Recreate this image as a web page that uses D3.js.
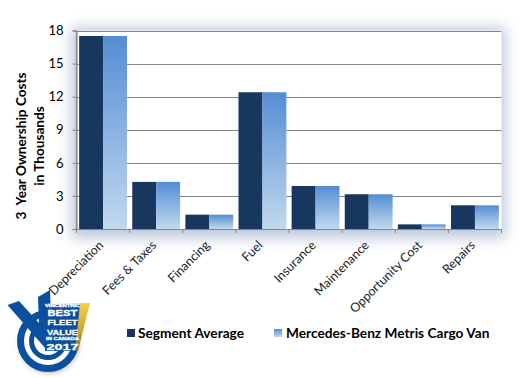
<!DOCTYPE html>
<html><head><meta charset="utf-8">
<script src="https://cdn.jsdelivr.net/npm/d3@7"></script>
<style>html,body{margin:0;background:#fff}svg{display:block}text{font-family:Lato,sans-serif}</style>
</head><body><div id="c"></div>
<script>
const categories=["Depreciation","Fees & Taxes","Financing","Fuel","Insurance","Maintenance","Opportunity Cost","Repairs"];
const seriesNames=["Segment Average","Mercedes-Benz Metris Cargo Van"];
const segmentAverage=[17.5,4.27,1.3,12.4,3.9,3.15,0.42,2.15];
const metrisVan=[17.5,4.27,1.3,12.4,3.9,3.15,0.42,2.15];
const yTicks=[0,3,6,9,12,15,18];
const W=524,H=378,L=76.5,R=501.5,T=30.5,B=229;
const svg=d3.select("#c").append("svg").attr("width",W).attr("height",H);
const defs=svg.append("defs");
const grad=defs.append("linearGradient").attr("id","g").attr("x1",0).attr("y1",0).attr("x2",0).attr("y2",1);
grad.append("stop").attr("offset",0).attr("stop-color","#548dd4");
grad.append("stop").attr("offset",1).attr("stop-color","#c2d9ee");
defs.append("filter").attr("id","blur").attr("x","-20%").attr("y","-30%").attr("width","140%").attr("height","160%")
  .append("feGaussianBlur").attr("stdDeviation",7);
defs.append("filter").attr("id","lblur").attr("x","-20%").attr("y","-20%").attr("width","140%").attr("height","140%")
  .append("feGaussianBlur").attr("stdDeviation",2);

const x=d3.scaleBand().domain(categories).range([L,R]);
const y=d3.scaleLinear().domain([0,18]).range([B,T]);
const inner=d3.scaleBand().domain([0,1]).range([0,x.bandwidth()]).paddingOuter(0.11).paddingInner(0);

svg.append("rect").attr("x",L-5).attr("y",T-3).attr("width",R-L+9).attr("height",B-T+12)
  .attr("fill","#8fa3c4").attr("opacity",.6).attr("filter","url(#blur)");
svg.append("rect").attr("x",L).attr("y",T).attr("width",R-L).attr("height",B-T).attr("fill","#fff");

const yG=svg.append("g").attr("transform",`translate(${L},0)`)
  .call(d3.axisLeft(y).tickValues(yTicks).tickSize(4).tickPadding(9));
yG.select(".domain").attr("stroke","#868686");
yG.selectAll(".tick line").attr("stroke","#868686");
yG.selectAll("text").attr("font-size",13).attr("fill","#000").style("font-family","Lato,sans-serif");

svg.append("g").selectAll("line").data(yTicks.filter(d=>d>0)).join("line")
  .attr("x1",L).attr("x2",R).attr("y1",d=>Math.round(y(d))+.5).attr("y2",d=>Math.round(y(d))+.5)
  .attr("stroke","#868686").attr("stroke-width",1);

const gs=svg.append("g").selectAll("g").data(categories).join("g").attr("transform",d=>`translate(${x(d)},0)`);
gs.append("rect").attr("x",inner(0)).attr("width",inner.bandwidth())
  .attr("y",(d,i)=>y(segmentAverage[i])).attr("height",(d,i)=>B-y(segmentAverage[i])).attr("fill","#17375e");
gs.append("rect").attr("x",inner(1)).attr("width",inner.bandwidth())
  .attr("y",(d,i)=>y(metrisVan[i])).attr("height",(d,i)=>B-y(metrisVan[i])).attr("fill","url(#g)");

const xG=svg.append("g").attr("transform",`translate(0,${B})`)
  .call(d3.axisBottom(x).tickValues([]).tickSizeOuter(0));
xG.select(".domain").attr("stroke","#868686").attr("stroke-width",1.2);
svg.append("g").selectAll("line").data(d3.range(categories.length+1)).join("line")
  .attr("x1",i=>L+i*x.step()).attr("x2",i=>L+i*x.step()).attr("y1",B).attr("y2",B+4).attr("stroke","#868686");
svg.append("line").attr("x1",L).attr("x2",L).attr("y1",T).attr("y2",B).attr("stroke","#868686").attr("stroke-width",1.2);

svg.append("g").selectAll("text").data(categories).join("text")
  .attr("transform",d=>`translate(${x(d)+x.bandwidth()/2+1},${B+17}) rotate(-45)`)
  .attr("text-anchor","end").attr("font-size",12.5).attr("fill","#222").text(d=>d);

const yl=svg.append("text").attr("transform","translate(26,146) rotate(-90)").attr("text-anchor","middle")
  .attr("font-size",13.6).attr("font-weight",700).attr("fill","#000").attr("xml:space","preserve").style("white-space","pre");
yl.append("tspan").attr("x",0).attr("dy",0).text("3  Year Ownership Costs");
yl.append("tspan").attr("x",0).attr("dy",18).text("in Thousands");

const legend=[{n:seriesNames[0],x:127,f:"#17375e",tx:138},{n:seriesNames[1],x:274,f:"url(#g)",tx:286}];
const lg=svg.append("g").selectAll("g").data(legend).join("g");
lg.append("rect").attr("x",d=>d.x).attr("y",329).attr("width",8).attr("height",8).attr("fill",d=>d.f);
lg.append("text").attr("x",d=>d.tx).attr("y",338).attr("font-size",13.7).attr("font-weight",700).attr("fill","#000").text(d=>d.n);

// badge
const b=svg.append("g");
const blue="#0b4f9e";
b.append("circle").attr("cx",49).attr("cy",343).attr("r",31).attr("fill","#777").attr("opacity",.35).attr("filter","url(#lblur)");
b.append("circle").attr("cx",48).attr("cy",341).attr("r",29).attr("fill","#fff");
b.append("circle").attr("cx",48).attr("cy",341).attr("r",27.5).attr("fill","none").attr("stroke",blue).attr("stroke-width",7);
b.append("circle").attr("cx",48).attr("cy",341).attr("r",16.5).attr("fill","none").attr("stroke",blue).attr("stroke-width",5);
b.append("path").attr("d","M7.5 305 L19 301 L39 323 L38 297 L50 290 L52 350 L46 349 Z").attr("fill",blue);
const goldGrad=defs.append("linearGradient").attr("id","gold").attr("x1",0).attr("y1",0).attr("x2",0).attr("y2",1);
goldGrad.append("stop").attr("offset",0).attr("stop-color","#f3d04a");
goldGrad.append("stop").attr("offset",.6).attr("stop-color","#c9a53a");
goldGrad.append("stop").attr("offset",1).attr("stop-color","#6f7050");
b.append("path").attr("d","M45 304 L90 303 L78 351 L45 351 Z").attr("fill","url(#gold)");
b.append("path").attr("d","M45 304 L80 304 L75 351 L45 351 Z").attr("fill",blue);
[["VINCENTRIC",306.6,4,35],["BEST",316.2,9.5,30],["FLEET",325.4,8,30],["VALUE",334.5,8,31],["IN CANADA",339.9,4,33],["2017",349.5,9.5,32]].forEach(([t,ty,fs,len])=>{
  b.append("text").attr("x",62.5).attr("y",ty).attr("text-anchor","middle").attr("font-size",fs).attr("font-weight",700).attr("fill","#fff")
   .attr("stroke","#fff").attr("stroke-width",.3)
   .attr("textLength",len).attr("lengthAdjust","spacingAndGlyphs")
   .style("font-family","'Liberation Sans',sans-serif").text(t);
});
</script></body></html>
